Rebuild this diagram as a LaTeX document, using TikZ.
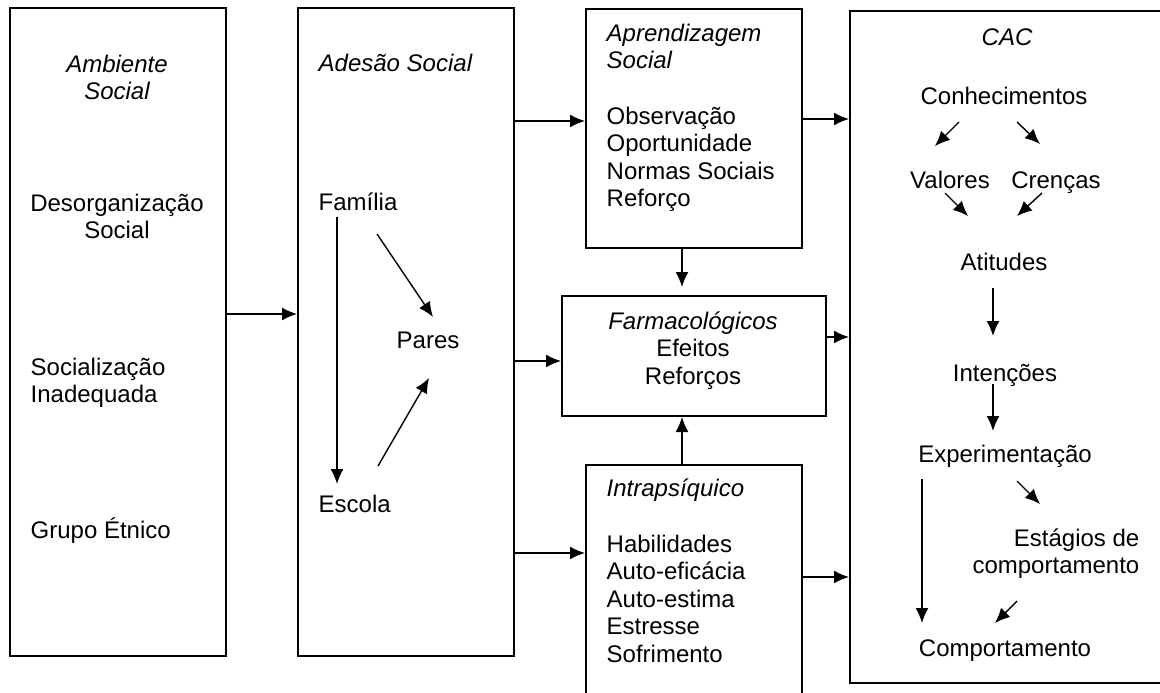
\documentclass[tikz,border=0pt]{standalone}
\usepackage{fontspec}
\setmainfont{Liberation Sans}
\usetikzlibrary{arrows.meta}

\begin{document}
\begin{tikzpicture}[x=1pt, y=-1pt, >={Latex[length=15pt,width=13pt]},
  line width=1.4pt,
  txt/.style={inner sep=0pt, font=\fontsize{24}{27.5}\selectfont},
  hd/.style={txt, font=\fontsize{24}{27.5}\selectfont\itshape},
  panel/.style={draw, line width=2pt, inner sep=0pt, anchor=north west}]

\useasboundingbox (0,0) rectangle (1160,693);

% boxes
\node [panel, minimum width=216pt, minimum height=648pt] (amb) at (9,7) {};
\node [panel, minimum width=216pt, minimum height=648pt] (ades) at (297,7) {};
\node [panel, minimum width=216pt, minimum height=239pt] (apr) at (585,8) {};
\node [panel, minimum width=264pt, minimum height=120pt] (farm) at (561,295) {};
\node [panel, minimum width=216pt, minimum height=246pt] (intra) at (585,464) {};
\node [panel, minimum width=330pt, minimum height=672pt] (cac) at (849,10) {};

% Ambiente Social (base = last line)
\node [hd, align=center, anchor=base] (ambhd) at (117,99.5) {Ambiente\\Social};
\node [txt, align=center, anchor=base] (deso) at (117,238.5) {Desorganização\\Social};
\node [txt, align=left, anchor=base west] (soci) at (30,402.5) {Socialização\\Inadequada};
\node [txt, anchor=base west] (etni) at (30,538) {Grupo Étnico};

% Adesao Social
\node [hd, anchor=base west] (adeshd) at (318,72) {Adesão Social};
\node [txt, anchor=base west] (fam) at (318,210) {Família};
\node [txt, anchor=base] (pares) at (428,348) {Pares};
\node [txt, anchor=base west] (esc) at (318,512) {Escola};

\draw [->] ([xshift=19pt,yshift=-7pt]fam.base west) -- ([xshift=19pt,yshift=28pt]esc.base west);
\draw [->] ([xshift=59pt,yshift=-24pt]fam.base west) -- ([xshift=5pt,yshift=31pt]pares.base);
\draw [->] ([xshift=60pt,yshift=46pt]esc.base west) -- ([xshift=1pt,yshift=-30pt]pares.base);

% Aprendizagem, Farmacologicos, Intrapsiquico
\node [hd, align=left, anchor=base west] (aprhd) at (606,68.5) {Aprendizagem\\Social};
\node [txt, align=left, anchor=base west] (aprlist) at (606,206.5)
  {Observação\\Oportunidade\\Normas Sociais\\Reforço};
\node [txt, align=center, anchor=base] (farmtxt) at (693,384)
  {\textit{Farmacológicos}\\Efeitos\\Reforços};
\node [hd, anchor=base west] (intrahd) at (606,496) {Intrapsíquico};
\node [txt, align=left, anchor=base west] (intralist) at (606,662)
  {Habilidades\\Auto-eficácia\\Auto-estima\\Estresse\\Sofrimento};

% CAC
\node [hd, anchor=base] (cachd) at (1007,46) {CAC};
\node [txt, anchor=base] (conh) at (1004,105) {Conhecimentos};
\node [txt, anchor=base] (val) at (950,188) {Valores};
\node [txt, anchor=base] (cren) at (1056,188) {Crenças};
\node [txt, anchor=base] (atit) at (1004,270) {Atitudes};
\node [txt, anchor=base] (inten) at (1005,381) {Intenções};
\node [txt, anchor=base] (exper) at (1005,462) {Experimentação};
\node [txt, align=right, anchor=base east] (estag) at (1140,573.5) {Estágios de\\comportamento};
\node [txt, anchor=base] (comp) at (1005,656) {Comportamento};

\draw [->] ([xshift=-45pt,yshift=-17pt]conh.base) -- ([xshift=-15pt,yshift=42pt]val.base);
\draw [->] ([xshift=13pt,yshift=-17pt]conh.base) -- ([xshift=-16pt,yshift=44pt]cren.base);
\draw [->] ([xshift=-5pt,yshift=-5pt]val.base) -- ([xshift=-36pt,yshift=54pt]atit.base);
\draw [->] ([xshift=-14pt,yshift=-5pt]cren.base) -- ([xshift=13pt,yshift=54pt]atit.base);
\draw [->] ([xshift=-11pt,yshift=-18pt]atit.base) -- ([xshift=-12pt,yshift=45pt]inten.base);
\draw [->] ([xshift=-12pt,yshift=-3pt]inten.base) -- ([xshift=-12pt,yshift=31pt]exper.base);
\draw [->] ([xshift=12pt,yshift=-19pt]exper.base) -- ([xshift=-100pt,yshift=69.5pt]estag.base east);
\draw [->] ([xshift=-83pt,yshift=-17pt]exper.base) -- ([xshift=-83pt,yshift=33pt]comp.base);
\draw [->] ([xshift=-123pt,yshift=-27.5pt]estag.base east) -- ([xshift=-10pt,yshift=33pt]comp.base);

% links between boxes
\draw [->] ([yshift=18pt]amb.east) -- ([yshift=18pt]ades.west);
\draw [->] ([yshift=211pt]ades.east) -- ([yshift=7.5pt]apr.west);
\draw [->] ([yshift=-29pt]ades.east) -- ([yshift=-5pt]farm.west);
\draw [->] ([yshift=-221pt]ades.east) -- ([yshift=35pt]intra.west);
\draw [->] ([xshift=-12pt]apr.south) -- ([xshift=-12pt,yshift=8pt]farm.north);
\draw [->] ([xshift=-12pt]intra.north) -- ([xshift=-12pt]farm.south);
\draw [->] ([yshift=9.5pt]apr.east) -- ([yshift=228pt]cac.west);
\draw [->] ([yshift=19pt]farm.east) -- ([yshift=10pt]cac.west);
\draw [->] ([yshift=11pt]intra.east) -- ([yshift=-230pt]cac.west);
\end{tikzpicture}
\end{document}
